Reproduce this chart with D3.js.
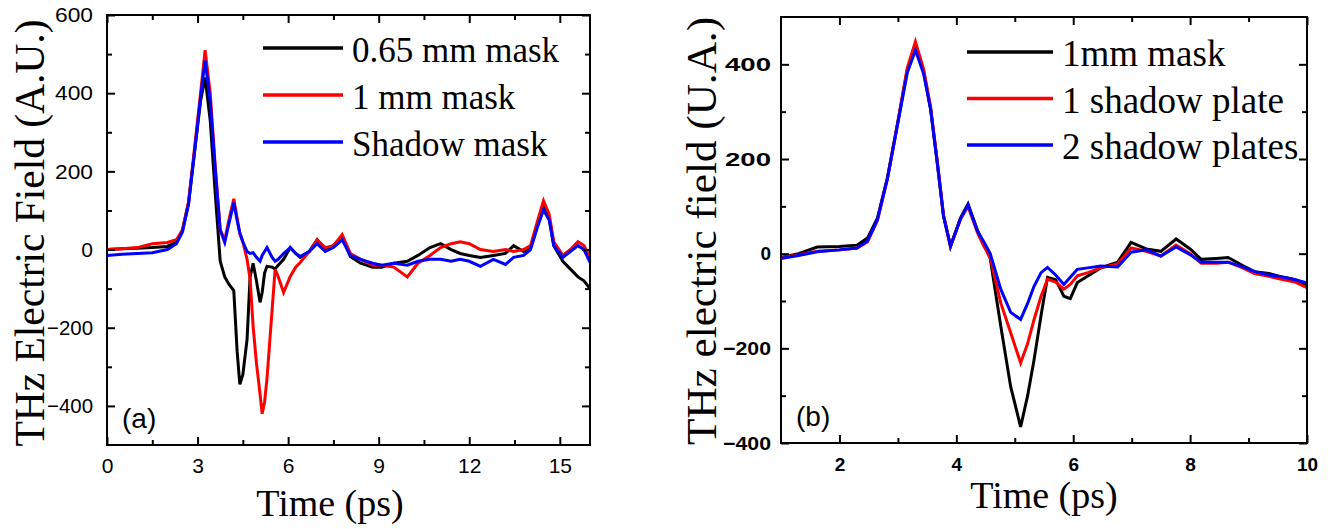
<!DOCTYPE html>
<html><head><meta charset="utf-8">
<script src="https://cdn.jsdelivr.net/npm/d3@7"></script>
<style>body{margin:0;background:#fff}svg{display:block}</style>
</head><body>
<svg id="chart" width="1329" height="529"></svg>
<script>
// ---------- Panel (a) data ----------
const timeA = [0,0.5,1.0,1.5,2.0,2.3,2.5,2.7,2.9,3.1,3.25,3.42,3.58,3.75,3.9,4.05,4.2,4.31,4.4,4.5,4.64,4.74,4.84,4.95,5.07,5.14,5.22,5.3,5.47,5.57,5.67,5.85,6.07,6.25,6.4,6.7,6.96,7.23,7.5,7.79,8.06,8.4,8.8,9.1,9.5,9.95,10.3,10.7,11.05,11.4,11.7,12.0,12.37,12.8,13.2,13.47,13.8,14.03,14.25,14.46,14.65,14.8,15.1,15.35,15.6,15.8,16.0];
const mask065 = [0,2,3,5,8,20,50,120,250,380,440,330,150,-30,-70,-90,-105,-260,-345,-320,-230,-70,-35,-80,-135,-110,-60,-43,-45,-50,-40,-25,5,-10,-20,-5,25,0,10,33,-18,-35,-45,-45,-35,-30,-15,5,15,0,-10,-15,-20,-15,-10,10,-5,5,60,110,80,10,-30,-50,-70,-80,-100];
const mask1 = [0,2,5,15,18,25,50,120,260,400,510,400,220,50,25,80,130,80,40,20,-25,-76,-196,-290,-370,-420,-390,-330,-153,-51,-69,-110,-69,-45,-33,-5,25,5,10,38,-10,-25,-40,-40,-45,-70,-35,-15,5,15,20,15,0,-5,0,-5,0,10,70,125,90,20,-15,0,20,10,-20];
const shadowMask = [-15,-12,-10,-8,0,15,45,115,250,390,484,380,210,50,18,70,120,75,43,20,-5,-10,-8,-20,-30,-15,-5,5,-20,-30,-25,-10,5,-10,-18,-5,15,-5,5,25,-15,-25,-35,-40,-35,-40,-30,-25,-25,-30,-25,-30,-43,-25,-38,-20,-15,0,55,102,75,10,-20,-5,10,0,-33];
const seriesNamesA = ["0.65 mm mask","1 mm mask","Shadow mask"];
const xTicksA = [0,3,6,9,12,15];
const yTicksA = [-400,-200,0,200,400,600];

// ---------- Panel (b) data ----------
const timeB = [1,1.3,1.62,2.0,2.3,2.48,2.65,2.82,2.99,3.16,3.3,3.44,3.56,3.68,3.78,3.9,4.07,4.2,4.36,4.47,4.58,4.76,4.93,5.1,5.22,5.33,5.45,5.56,5.7,5.84,5.95,6.07,6.25,6.47,6.76,6.99,7.25,7.5,7.76,8.0,8.19,8.45,8.65,8.9,9.1,9.35,9.6,9.8,10.0];
const mask1mm = [-8,0,14,15,18,33,75,160,272,388,440,385,305,185,80,15,75,105,50,20,-10,-153,-281,-366,-300,-224,-130,-50,-55,-90,-95,-61,-47,-30,-18,24,10,5,31,10,-12,-10,-8,-25,-38,-42,-50,-55,-68];
const plate1 = [-8,-3,5,8,12,25,70,158,272,392,448,390,310,190,82,16,73,100,45,16,-8,-104,-167,-231,-190,-139,-90,-54,-60,-75,-65,-47,-40,-30,-22,12,5,-5,18,0,-20,-20,-18,-30,-42,-48,-55,-60,-72];
const plates2 = [-10,-4,4,8,12,27,72,158,270,382,430,380,305,186,80,16,73,103,48,25,0,-75,-124,-139,-105,-69,-40,-29,-45,-65,-50,-33,-30,-26,-28,3,8,-5,14,-2,-18,-18,-18,-28,-38,-45,-50,-55,-62];
const seriesNamesB = ["1mm mask","1 shadow plate","2 shadow plates"];
const xTicksB = [2,4,6,8,10];
const yTicksB = [-400,-200,0,200,400];

const colors = ["#000000","#ff0000","#0000ff"];
const svg = d3.select("#chart");

function panel(cfg){
  const g = svg.append("g");
  const x = d3.scaleLinear().domain(cfg.xDomain).range([cfg.left, cfg.right]);
  const y = d3.scaleLinear().domain(cfg.yDomain).range([cfg.bottom, cfg.top]);

  const line = d3.line().x(d=>x(d[0])).y(d=>y(d[1]));
  cfg.series.forEach((s,i)=>{
    g.append("path").datum(cfg.time.map((t,j)=>[t,s[j]]))
      .attr("d", line).attr("fill","none").attr("stroke",colors[i])
      .attr("stroke-width",3).attr("stroke-linejoin","miter");
  });

  g.append("rect").attr("x",cfg.left).attr("y",cfg.top)
    .attr("width",cfg.right-cfg.left).attr("height",cfg.bottom-cfg.top)
    .attr("fill","none").attr("stroke","#000").attr("stroke-width",2);

  const styleAxis = sel => { sel.select(".domain").remove(); sel.selectAll("line").attr("stroke","#000").attr("stroke-width",2); };

  const bottomAx = g.append("g").attr("transform",`translate(0,${cfg.bottom})`)
    .call(d3.axisBottom(x).tickValues(cfg.xTicks).tickSize(-8).tickPadding(cfg.xPad).tickFormat(d3.format("d")));
  const leftAx = g.append("g").attr("transform",`translate(${cfg.left},0)`)
    .call(d3.axisLeft(y).tickValues(cfg.yTicks).tickSize(-8).tickPadding(cfg.yPad).tickFormat(d3.format("d")));
  g.append("g").attr("transform",`translate(0,${cfg.top})`)
    .call(d3.axisTop(x).tickValues(cfg.xTicks).tickSize(-8).tickFormat("")).call(styleAxis);
  g.append("g").attr("transform",`translate(${cfg.right},0)`)
    .call(d3.axisRight(y).tickValues(cfg.yTicks).tickSize(-8).tickFormat("")).call(styleAxis);
  g.append("g").attr("transform",`translate(0,${cfg.bottom})`)
    .call(d3.axisBottom(x).tickValues(cfg.xMinor).tickSize(-5).tickFormat("")).call(styleAxis);
  g.append("g").attr("transform",`translate(0,${cfg.top})`)
    .call(d3.axisTop(x).tickValues(cfg.xMinor).tickSize(-5).tickFormat("")).call(styleAxis);
  g.append("g").attr("transform",`translate(${cfg.left},0)`)
    .call(d3.axisLeft(y).tickValues(cfg.yMinor).tickSize(-5).tickFormat("")).call(styleAxis);
  g.append("g").attr("transform",`translate(${cfg.right},0)`)
    .call(d3.axisRight(y).tickValues(cfg.yMinor).tickSize(-5).tickFormat("")).call(styleAxis);

  [bottomAx,leftAx].forEach(a=>{
    styleAxis(a);
    a.selectAll("text").attr("fill","#000").attr("font-family","'Liberation Sans', Arial, sans-serif")
      .attr("font-size",cfg.tickFont).attr("font-weight",cfg.tickWeight);
  });
  leftAx.selectAll("text").each(function(){
    const t = d3.select(this), n = t.text().length;
    if (n >= 3) t.attr("textLength", n === 3 ? cfg.yLen3 : cfg.yLen4).attr("lengthAdjust","spacingAndGlyphs");
  });

  g.append("text").attr("x",cfg.xTitleX).attr("y",cfg.xTitleY).attr("text-anchor","middle")
    .attr("font-family","'Liberation Serif','Times New Roman',serif").attr("font-size",38).text("Time (ps)");
  g.append("text").attr("transform",`translate(${cfg.yTitleX},${cfg.yTitleY}) rotate(-90)`)
    .attr("text-anchor","middle").attr("font-family","'Liberation Serif','Times New Roman',serif")
    .attr("font-size",42).attr("textLength",cfg.yTitleLen).attr("lengthAdjust","spacingAndGlyphs").text(cfg.yTitle);

  g.append("text").attr("x",cfg.left+15).attr("y",cfg.bottom-17)
    .attr("font-family","'Liberation Sans', Arial, sans-serif").attr("font-size",28).text(cfg.label);

  cfg.names.forEach((n,i)=>{
    const ly = cfg.legY + i*cfg.legGap;
    g.append("line").attr("x1",cfg.legX1).attr("x2",cfg.legX2).attr("y1",ly).attr("y2",ly)
      .attr("stroke",colors[i]).attr("stroke-width",3.5);
    g.append("text").attr("x",cfg.legTextX).attr("y",ly+14)
      .attr("font-family","'Liberation Serif','Times New Roman',serif").attr("font-size",cfg.legFont).text(n);
  });
}

panel({
  time: timeA, series:[mask065, mask1, shadowMask], names: seriesNamesA,
  xDomain:[0,16], yDomain:[-500,600], left:107, right:590, top:15, bottom:445,
  xTicks:xTicksA, yTicks:yTicksA, xMinor:[1.5,4.5,7.5,10.5,13.5], yMinor:[-300,-100,100,300,500],
  xPad:13, yPad:14, tickFont:21, tickWeight:"normal", yLen3:38, yLen4:46,
  xTitleX:330, xTitleY:516, yTitleX:44, yTitleY:233, yTitleLen:427, yTitle:"THz Electric Field (A.U.)",
  label:"(a)", legX1:263, legX2:343, legTextX:352, legY:48, legGap:47, legFont:35
});

panel({
  time: timeB, series:[mask1mm, plate1, plates2], names: seriesNamesB,
  xDomain:[1,10], yDomain:[-400,500], left:781, right:1307, top:17, bottom:443,
  xTicks:xTicksB, yTicks:yTicksB, xMinor:[3,5,7,9], yMinor:[-300,-100,100,300],
  xPad:15, yPad:10, tickFont:19, tickWeight:"bold", yLen3:46, yLen4:48,
  xTitleX:1044, xTitleY:508, yTitleX:716, yTitleY:231, yTitleLen:428, yTitle:"THz electric field (U.A.)",
  label:"(b)", legX1:967, legX2:1053, legTextX:1062, legY:52, legGap:46.5, legFont:37
});
</script>
</body></html>
